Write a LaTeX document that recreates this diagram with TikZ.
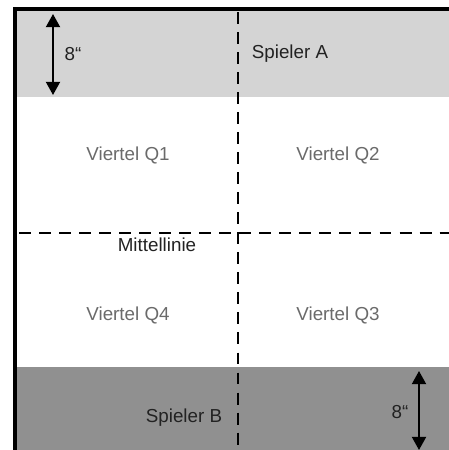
\documentclass[tikz,border=0pt]{standalone}
\usepackage{fontspec}
\setmainfont{Liberation Sans}
\usetikzlibrary{arrows.meta}

\definecolor{zonelight}{HTML}{D4D4D4}
\definecolor{zonedark}{HTML}{909090}
\definecolor{quartertext}{HTML}{6A6A6A}
\definecolor{playertext}{HTML}{222222}

\tikzset{
  midline/.style={line width=1.1pt, dash pattern=on 6.8pt off 4.6pt},
  measure/.style={line width=1.1pt, {Triangle[width=8pt,length=7.5pt]}-{Triangle[width=8pt,length=7.5pt]}},
  quarter/.style={text=quartertext, font=\fontsize{10.7}{13}\selectfont},
  player/.style={text=playertext, font=\fontsize{10.7}{13}\selectfont}
}

\begin{document}
\begin{tikzpicture}[x=0.02cm, y=-0.02cm]
\useasboundingbox (0,0) rectangle (449,450);

% player zones
\fill[zonelight] (17,11) rectangle (449,97);
\fill[zonedark] (17,367) rectangle (449,450);

% table edge
\draw[line width=2.3pt] (15,450) -- (15,9) -- (449,9);

% centre and middle lines
\draw[midline] (238,12) -- (238,450);
\draw[midline] (19,233) -- (449,233);

% measurements
\coordinate (a1) at (53,14);
\coordinate (a2) at (53,95);
\coordinate (b1) at (419,371);
\coordinate (b2) at (419,450);
\draw[measure] (a1) -- (a2);
\draw[measure] (b1) -- (b2);

\node[player] (ma) at (73,54) {8“};
\node[player] (mb) at (400,412) {8“};

\node[player] (pa) at (290,54) {Spieler A};
\node[player] (pb) at (184,418) {Spieler B};

\node[quarter] (q1) at (128,155) {Viertel Q1};
\node[quarter] (q2) at (338,155) {Viertel Q2};
\node[quarter] (q4) at (128,315) {Viertel Q4};
\node[quarter] (q3) at (338,315) {Viertel Q3};

\node[player] (ml) at (157,245) {Mittellinie};
\end{tikzpicture}
\end{document}
